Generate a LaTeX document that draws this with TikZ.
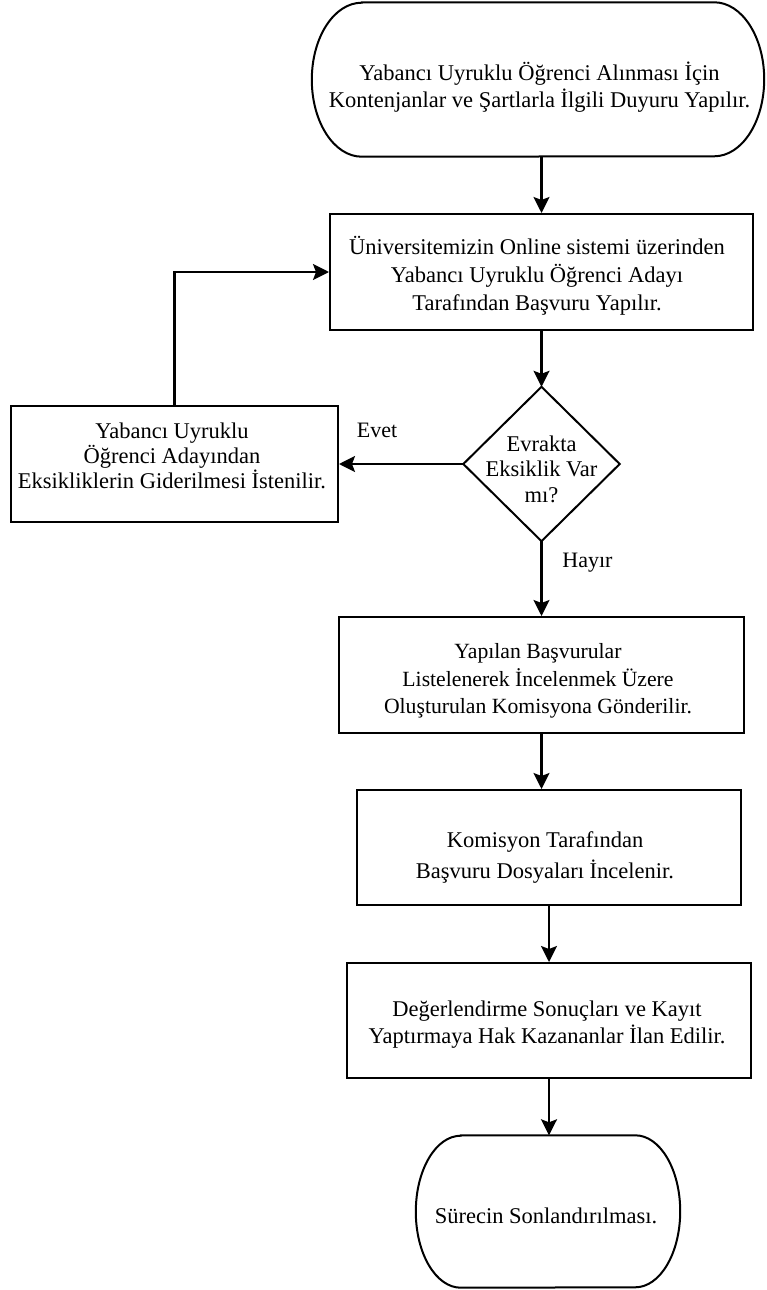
\documentclass[tikz,border=0pt]{standalone}
\usepackage{fontspec}
\setmainfont{Liberation Serif}
\usetikzlibrary{arrows.meta,calc}
\tikzset{
 shapeline/.style={draw=black, line width=2pt},
 proc/.style={shapeline, rectangle, inner sep=0pt},
 blank/.style={rectangle, inner sep=0pt, draw=none},
 txt/.style={align=center, inner sep=0pt},
 conn/.style={line width=2.2pt, -{Stealth[length=16pt,width=16pt,inset=3pt]}},
 lab/.style={inner sep=0pt, font=\fontsize{22}{26}\selectfont},
}
\newcommand\termpath[3]{%
 \draw[shapeline] ([xshift=#2]#1.north west) -- ([xshift=-#2]#1.north east)
   arc[start angle=90,end angle=-90,x radius=#2,y radius=#3]
   -- ([xshift=#2]#1.south west)
   arc[start angle=270,end angle=90,x radius=#2,y radius=#3] -- cycle;}
\begin{document}
\begin{tikzpicture}[x=1pt,y=-1pt]
\useasboundingbox (0,0) rectangle (766,1290);
% shapes
\node[blank, minimum width=452pt, minimum height=154pt] (start) at (538,79.5) {};
\termpath{start}{50pt}{77pt}
\node[proc, minimum width=423pt, minimum height=116pt] (apply) at (541.5,272) {};
\node[blank, minimum width=156pt, minimum height=154pt] (dec) at (541.5,464) {};
\draw[shapeline] (dec.north) -- (dec.east) -- (dec.south) -- (dec.west) -- cycle;
\node[proc, minimum width=327pt, minimum height=116pt] (left) at (174.5,464) {};
\node[proc, minimum width=405pt, minimum height=116pt] (b3) at (541.5,675) {};
\node[proc, minimum width=384pt, minimum height=115pt] (b4) at (549,847.5) {};
\node[proc, minimum width=404pt, minimum height=115pt] (b5) at (549,1020.5) {};
\node[blank, minimum width=264pt, minimum height=152pt] (end) at (548,1211.5) {};
\termpath{end}{45pt}{76pt}
% texts
\node[txt, font=\fontsize{22.5}{27}\selectfont] (tstart) at (539.5,87) {Yabancı Uyruklu Öğrenci Alınması İçin\\Kontenjanlar ve Şartlarla İlgili Duyuru Yapılır.};
\node[txt, font=\fontsize{22.5}{28}\selectfont] (tapply) at (537,276) {Üniversitemizin Online sistemi üzerinden\\Yabancı Uyruklu Öğrenci Adayı\\Tarafından Başvuru Yapılır.};
\node[txt, font=\fontsize{22.5}{25.5}\selectfont] (tdec) at (541.5,469) {Evrakta\\Eksiklik Var\\mı?};
\node[txt, font=\fontsize{22.5}{25}\selectfont] (tleft) at (172,456) {Yabancı Uyruklu\\Öğrenci Adayından\\Eksikliklerin Giderilmesi İstenilir.};
\node[txt, font=\fontsize{21.7}{27.5}\selectfont] (tb3) at (538,681) {Yapılan Başvurular\\Listelenerek İncelenmek Üzere\\Oluşturulan Komisyona Gönderilir.};
\node[txt, font=\fontsize{22.5}{31}\selectfont] (tb4) at (545,857) {Komisyon Tarafından\\Başvuru Dosyaları İncelenir.};
\node[txt, font=\fontsize{22.5}{27}\selectfont] (tb5) at (547,1025) {Değerlendirme Sonuçları ve Kayıt\\Yaptırmaya Hak Kazananlar İlan Edilir.};
\node[txt, font=\fontsize{22.5}{27}\selectfont] (tend) at (546,1216) {Sürecin Sonlandırılması.};
% labels
\node[lab] (evet) at (377,430) {Evet};
\node[lab] (hayir) at (587.5,563) {Hayır};
% connectors
\draw[conn] (start.south -| apply.north) -- (apply.north);
\draw[conn] (apply.south) -- (dec.north);
\draw[conn] (dec.west) -- (left.east);
\draw[conn] (left.north) |- (apply.west);
\draw[conn] (dec.south) -- (b3.north);
\draw[conn] (b3.south) -- (b3.south |- b4.north);
\draw[conn] (b4.south) -- (b5.north);
\draw[conn] (b5.south) -- (b5.south |- end.north);
\end{tikzpicture}
\end{document}
